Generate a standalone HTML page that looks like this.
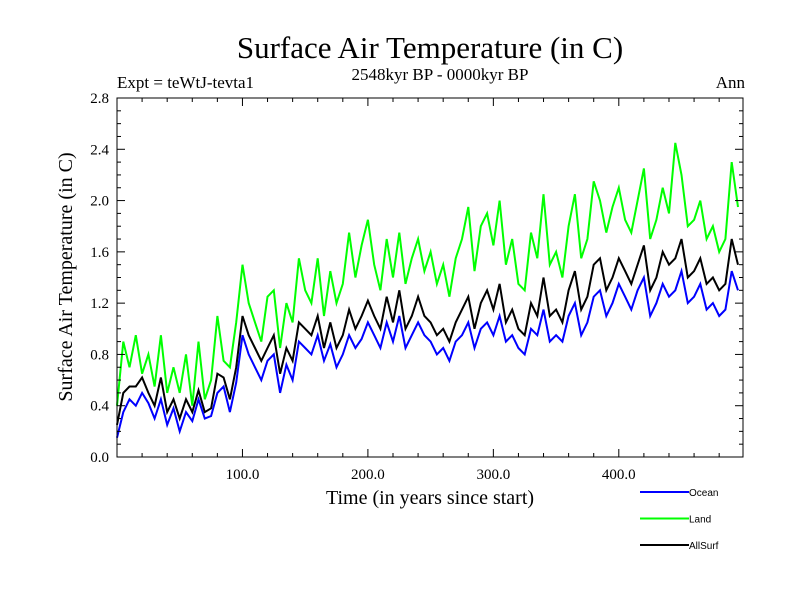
<!DOCTYPE html>
<html><head><meta charset="utf-8"><style>
body{margin:0;background:#fff}
svg{display:block}
</style></head><body>
<svg id="c" width="800" height="600" xmlns="http://www.w3.org/2000/svg">
<text x="430" y="58" text-anchor="middle" font-family="Liberation Serif, serif" font-size="31">Surface Air Temperature (in C)</text>
<text x="440" y="80" text-anchor="middle" font-family="Liberation Serif, serif" font-size="17">2548kyr BP - 0000kyr BP</text>
<text x="117" y="88" font-family="Liberation Serif, serif" font-size="17">Expt = teWtJ-tevta1</text>
<text x="745" y="88" text-anchor="end" font-family="Liberation Serif, serif" font-size="17">Ann</text>
<text transform="translate(72,277) rotate(-90)" text-anchor="middle" font-family="Liberation Serif, serif" font-size="20">Surface Air Temperature (in C)</text>
<text x="430" y="504" text-anchor="middle" font-family="Liberation Serif, serif" font-size="20">Time (in years since start)</text>
<g id="plot"></g>
<g id="axes"></g>
<g id="legend"></g>
</svg>
<script>
const years=[];for(let i=0;i<100;i++)years.push(i*5);
const ocean=[0.15,0.35,0.45,0.40,0.50,0.42,0.30,0.45,0.25,0.38,
0.20,0.35,0.28,0.45,0.30,0.32,0.50,0.55,0.35,0.58,
0.95,0.80,0.70,0.60,0.75,0.80,0.50,0.72,0.60,0.90,
0.85,0.80,0.95,0.75,0.88,0.70,0.80,0.95,0.85,0.92,
1.05,0.95,0.85,1.05,0.90,1.10,0.85,0.95,1.05,0.95,
0.90,0.80,0.85,0.75,0.90,0.95,1.05,0.85,1.00,1.05,
0.95,1.10,0.90,0.95,0.85,0.80,1.00,0.95,1.15,0.90,
0.95,0.90,1.10,1.20,0.95,1.05,1.25,1.30,1.10,1.20,
1.35,1.25,1.15,1.30,1.40,1.10,1.20,1.35,1.25,1.30,
1.45,1.20,1.25,1.35,1.15,1.20,1.10,1.15,1.45,1.30];
const land=[0.40,0.90,0.70,0.95,0.65,0.80,0.55,0.95,0.50,0.70,
0.50,0.80,0.40,0.90,0.45,0.60,1.10,0.75,0.70,1.05,
1.50,1.20,1.05,0.90,1.25,1.30,0.85,1.20,1.05,1.55,
1.30,1.20,1.55,1.10,1.45,1.20,1.35,1.75,1.40,1.65,
1.85,1.50,1.30,1.70,1.40,1.75,1.35,1.55,1.70,1.45,
1.60,1.35,1.50,1.25,1.55,1.70,1.95,1.45,1.80,1.90,
1.65,2.00,1.50,1.70,1.35,1.30,1.75,1.55,2.05,1.50,
1.60,1.40,1.80,2.05,1.55,1.70,2.15,2.00,1.75,1.95,
2.10,1.85,1.75,2.00,2.25,1.70,1.85,2.10,1.90,2.45,
2.20,1.80,1.85,2.00,1.70,1.80,1.60,1.70,2.30,1.95];
const allsurf=[0.25,0.50,0.55,0.55,0.62,0.50,0.40,0.62,0.35,0.45,
0.30,0.45,0.35,0.52,0.35,0.38,0.65,0.62,0.45,0.70,
1.10,0.95,0.85,0.75,0.85,0.95,0.65,0.85,0.75,1.05,
1.00,0.95,1.10,0.85,1.05,0.85,0.95,1.15,1.00,1.10,
1.22,1.10,1.00,1.25,1.05,1.30,1.00,1.10,1.25,1.10,
1.05,0.95,1.00,0.90,1.05,1.15,1.25,1.00,1.20,1.30,
1.15,1.35,1.05,1.15,1.00,0.95,1.20,1.10,1.40,1.10,
1.15,1.05,1.30,1.45,1.15,1.25,1.50,1.55,1.30,1.40,
1.55,1.45,1.35,1.50,1.65,1.30,1.40,1.60,1.50,1.55,
1.70,1.40,1.45,1.55,1.35,1.40,1.30,1.35,1.70,1.50];
const xTicks=[100,200,300,400];
const xTickLabels=["100.0","200.0","300.0","400.0"];
const yTicks=[0,0.4,0.8,1.2,1.6,2.0,2.4,2.8];
const yTickLabels=["0.0","0.4","0.8","1.2","1.6","2.0","2.4","2.8"];
const seriesNames=["Ocean","Land","AllSurf"];

const L=117,R=743,T=98,B=457,X0=0,X1=499,Y0=0,Y1=2.8;
const xs=v=>L+(v-X0)/(X1-X0)*(R-L);
const ys=v=>B-(v-Y0)/(Y1-Y0)*(B-T);
const NS="http://www.w3.org/2000/svg";
function mk(tag,attrs,parent){const e=document.createElementNS(NS,tag);for(const k in attrs)e.setAttribute(k,attrs[k]);parent.appendChild(e);return e;}
const plot=document.getElementById('plot'),axes=document.getElementById('axes'),leg=document.getElementById('legend');
const cols=["#0000ff","#00ff00","#000000"];
const data=[ocean,land,allsurf];
[1,0,2].forEach(i=>{
  const d=data[i].map((v,j)=>(j?'L':'M')+xs(years[j]).toFixed(1)+','+ys(v).toFixed(1)).join('');
  const p=mk('path',{d:d,fill:'none',stroke:cols[i],'stroke-width':2},plot);
  
  
});
const fr=mk('rect',{x:L,y:T,width:R-L,height:B-T,fill:'none',stroke:'#000','stroke-width':1},axes);


for(let v=20;v<X1;v+=20){const maj=v%100===0,len=maj?8:4;
  mk('line',{x1:xs(v),x2:xs(v),y1:B,y2:B-len,stroke:'#000'},axes);
  mk('line',{x1:xs(v),x2:xs(v),y1:T,y2:T+len,stroke:'#000'},axes);}
for(let k=1;k<28;k++){const v=k/10,maj=k%4===0,len=maj?8:4;
  mk('line',{x1:L,x2:L+len,y1:ys(v),y2:ys(v),stroke:'#000'},axes);
  mk('line',{x1:R,x2:R-len,y1:ys(v),y2:ys(v),stroke:'#000'},axes);}
xTicks.forEach((v,i)=>{const t=mk('text',{x:xs(v),y:B+22,'text-anchor':'middle','font-family':'Liberation Serif, serif','font-size':15},axes);t.textContent=xTickLabels[i];
  
  });
yTicks.forEach((v,i)=>{const t=mk('text',{x:L-8,y:ys(v)+5,'text-anchor':'end','font-family':'Liberation Serif, serif','font-size':15},axes);t.textContent=yTickLabels[i];
  
  });
seriesNames.forEach((n,i)=>{const y=492+i*26.5;
  const g=mk('g',{},leg);
  
  
  mk('line',{x1:640,x2:689,y1:y,y2:y,stroke:cols[i],'stroke-width':2},g);
  const t=mk('text',{x:689,y:y+4,'font-family':'Liberation Sans, sans-serif','font-size':10},g);t.textContent=n;});
</script>
</body></html>
